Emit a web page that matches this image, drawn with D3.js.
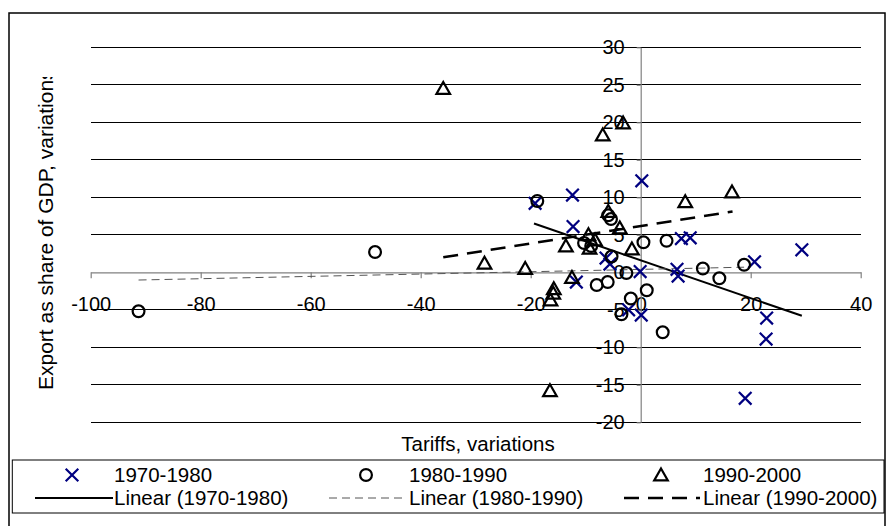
<!DOCTYPE html>
<html>
<head>
<meta charset="utf-8">
<script src="https://cdn.jsdelivr.net/npm/d3@7/dist/d3.min.js"></script>
<style>
  html, body { margin: 0; padding: 0; background: #fff; }
  svg text { font-family: "Liberation Sans", Arial, sans-serif; }
</style>
</head>
<body>
<svg id="chart" width="886" height="526"></svg>
<script>
// ---------------- DATA ----------------
const series1970 = [
  [-19.2, 9.2], [-12.4, 10.3], [-12.3, 6.1], [0.2, 12.2], [7.4, 4.5], [9.0, 4.6],
  [29.3, 3.0], [20.7, 1.4], [-6.3, 1.9], [-5.6, 1.1], [-0.1, 0.1], [6.6, 0.4],
  [6.8, -0.5], [-11.7, -1.3], [-2.2, -5.0], [0.1, -5.7], [22.9, -6.1], [22.8, -8.9],
  [19.0, -16.8]
];
const series1980 = [
  [-91.3, -5.2], [-48.3, 2.7], [-18.8, 9.5], [-10.3, 3.9], [-9.0, 3.5], [-5.9, 7.6],
  [-5.4, 7.1], [-5.3, 2.1], [-2.6, -0.1], [0.5, 4.0], [4.7, 4.2], [11.3, 0.5],
  [18.8, 1.0], [14.3, -0.8], [-8.0, -1.7], [-6.0, -1.3], [1.1, -2.4], [-1.8, -3.5],
  [-3.5, -5.6], [4.0, -8.0]
];
const series1990 = [
  [-35.9, 24.5], [-6.9, 18.3], [-3.2, 19.9], [16.6, 10.7], [8.1, 9.4], [-5.9, 8.1],
  [-3.8, 5.9], [-9.5, 5.0], [-8.3, 4.3], [-13.6, 3.5], [-9.3, 3.2], [-1.6, 3.1],
  [-28.4, 1.2], [-21.0, 0.5], [-12.5, -0.7], [-15.8, -2.2], [-15.9, -2.8], [-16.4, -3.7],
  [-16.5, -15.8]
];
// Linear trend lines (endpoints)
const trend1970 = [[-19.4, 6.5], [29.3, -5.8]];
const trend1980 = [[-91.3, -1.03], [18.8, 0.68]];
const trend1990 = [[-35.9, 2.0], [16.7, 8.1]];

const xTicks = [-100, -80, -60, -40, -20, 0, 20, 40];
const yTicks = [-20, -15, -10, -5, 0, 5, 10, 15, 20, 25, 30];
const seriesNames = ["1970-1980", "1980-1990", "1990-2000"];
const trendNames = ["Linear (1970-1980)", "Linear (1980-1990)", "Linear (1990-2000)"];
const xTitle = "Tariffs, variations";
const yTitle = "Export as share of GDP, variations";

// ---------------- LAYOUT ----------------
const svg = d3.select("#chart");
const x = d3.scaleLinear().domain([-100, 40]).range([90.7, 860.7]);
const y = d3.scaleLinear().domain([-20, 30]).range([422.3, 47.3]);
const FONT = 20;
const fmt = d => String(d);

svg.append("rect").attr("x", 0).attr("y", 0).attr("width", 886).attr("height", 526).attr("fill", "#fff");
// chart area border
svg.append("rect").attr("x", 9).attr("y", 13).attr("width", 876).attr("height", 530)
  .attr("fill", "none").attr("stroke", "#000").attr("stroke-width", 1.5);

// gridlines
svg.append("g").selectAll("line").data(yTicks.filter(d => d !== 0)).join("line")
  .attr("x1", x(-100)).attr("x2", x(40))
  .attr("y1", d => y(d)).attr("y2", d => y(d))
  .attr("stroke", "#000").attr("stroke-width", 1).attr("shape-rendering", "crispEdges");

// x axis at y=0
const xAxis = d3.axisBottom(x).tickValues(xTicks).tickSizeInner(6).tickSizeOuter(0).tickPadding(19)
  .tickFormat(fmt);
const gx = svg.append("g").attr("transform", `translate(0,${y(0)})`).call(xAxis);
gx.select(".domain").attr("stroke", "#808080").attr("stroke-width", 1.2);
gx.selectAll(".tick line").attr("stroke", "#808080").attr("stroke-width", 1.2);
gx.selectAll(".tick text").attr("font-size", FONT).attr("fill", "#000")
  .style("font-family", '"Liberation Sans", Arial, sans-serif');

// y axis at x=0
const yAxis = d3.axisLeft(y).tickValues(yTicks).tickSizeInner(4).tickSizeOuter(0).tickPadding(12)
  .tickFormat(fmt);
const gy = svg.append("g").attr("transform", `translate(${x(0)},0)`).call(yAxis);
gy.select(".domain").attr("stroke", "#808080").attr("stroke-width", 1.2);
gy.selectAll(".tick line").attr("stroke", "#808080").attr("stroke-width", 1.2);
gy.selectAll(".tick text").attr("font-size", FONT).attr("fill", "#000")
  .style("font-family", '"Liberation Sans", Arial, sans-serif');

// axis titles
svg.append("text").attr("x", 478).attr("y", 451).attr("text-anchor", "middle")
  .attr("font-size", 20.5).text(xTitle);

svg.append("clipPath").attr("id", "ytclip").append("rect")
  .attr("x", 20).attr("y", 77).attr("width", 60).attr("height", 377);
svg.append("g").attr("clip-path", "url(#ytclip)")
  .append("text").attr("transform", "translate(52.5,390) rotate(-90)")
  .attr("text-anchor", "start").attr("font-size", 21).text(yTitle);

// ---------------- MARKS ----------------
const line = d3.line().x(d => x(d[0])).y(d => y(d[1]));
const trendStyles = [
  { stroke: "#000", width: 2, dash: null },
  { stroke: "#555", width: 1, dash: "8,5" },
  { stroke: "#000", width: 2.6, dash: "15,9" }
];
[trend1970, trend1980, trend1990].forEach((t, i) => {
  svg.append("path").attr("d", line(t)).attr("fill", "none")
    .attr("stroke", trendStyles[i].stroke).attr("stroke-width", trendStyles[i].width)
    .attr("stroke-dasharray", trendStyles[i].dash);
});

const markerPaths = [
  "M-6.3,-6.3L6.3,6.3M-6.3,6.3L6.3,-6.3",
  d3.symbol().type(d3.symbolCircle).size(Math.PI * 5.9 * 5.9)(),
  "M0,-6.5L6.8,5.4L-6.8,5.4Z"
];
const markerColors = ["#000080", "#000", "#000"];

[series1970, series1980, series1990].forEach((s, i) => {
  svg.append("g").selectAll("path").data(s).join("path")
    .attr("transform", d => `translate(${x(d[0])},${y(d[1])})`)
    .attr("d", markerPaths[i])
    .attr("fill", "none").attr("stroke", markerColors[i]).attr("stroke-width", 2.2);
});

// ---------------- LEGEND ----------------
const lg = svg.append("g");
lg.append("rect").attr("x", 12.3).attr("y", 460).attr("width", 871.7).attr("height", 53)
  .attr("fill", "#fff").attr("stroke", "#000").attr("stroke-width", 1);
const colText = [114, 409, 703];
const colMarker = [72, 366, 661];
const colLine = [[35, 113], [329, 402], [624, 700]];
const row1 = 475, row2 = 498;
seriesNames.forEach((n, i) => {
  lg.append("path").attr("transform", `translate(${colMarker[i]},${row1})`)
    .attr("d", markerPaths[i]).attr("fill", "none")
    .attr("stroke", markerColors[i]).attr("stroke-width", 2.2);
  lg.append("text").attr("x", colText[i]).attr("y", row1 + 7.3).attr("font-size", 20.5).text(n);
});
trendNames.forEach((n, i) => {
  lg.append("line").attr("x1", colLine[i][0]).attr("x2", colLine[i][1])
    .attr("y1", row2).attr("y2", row2)
    .attr("stroke", trendStyles[i].stroke).attr("stroke-width", trendStyles[i].width)
    .attr("stroke-dasharray", trendStyles[i].dash);
  lg.append("text").attr("x", colText[i]).attr("y", row2 + 7.3).attr("font-size", 20.5).text(n);
});
</script>
</body>
</html>
